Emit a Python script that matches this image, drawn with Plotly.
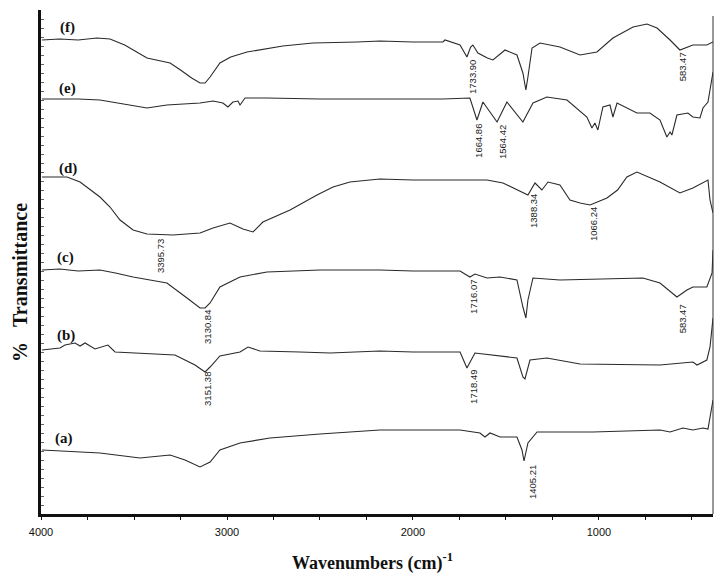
import plotly.graph_objects as go

# Wavenumber (cm^-1) and relative transmittance (arbitrary offset units)
f_wn = [3995, 3900, 3800, 3700, 3629, 3550, 3430, 3350, 3306, 3250, 3190, 3145, 3118, 3091, 3060, 3038, 2980, 2892, 2700, 2538, 2300, 2178, 2000, 1839, 1828, 1790, 1747, 1710, 1690, 1678, 1651, 1600, 1570, 1505, 1441, 1409, 1393, 1382, 1360, 1317, 1210, 1102, 1011, 925, 817, 742, 688, 618, 565, 495, 420, 387]
f_px = [40, 39, 40, 38, 39, 45, 58, 61, 63, 70, 78, 83, 83, 77, 68, 63, 57, 52, 46, 43, 42, 41, 42, 42, 40, 42, 45, 57, 47, 45, 53, 58, 60, 50, 55, 73, 90, 77, 48, 43, 47, 55, 52, 38, 27, 24, 28, 40, 50, 45, 45, 42]

e_wn = [3995, 3800, 3683, 3550, 3430, 3323, 3145, 3075, 3022, 2995, 2968, 2941, 2930, 2903, 2785, 2500, 2178, 1839, 1694, 1656, 1624, 1548, 1495, 1409, 1355, 1280, 1172, 1065, 1038, 1022, 1006, 979, 941, 925, 903, 850, 796, 726, 672, 635, 618, 608, 581, 522, 495, 457, 441, 414, 387]
e_px = [99, 99, 100, 104, 108, 105, 103, 101, 103, 107, 102, 101, 105, 98, 98, 99, 99, 99, 98, 120, 102, 122, 102, 122, 103, 97, 100, 117, 128, 123, 130, 107, 105, 117, 103, 108, 113, 113, 120, 137, 132, 135, 115, 113, 117, 118, 108, 102, 72]

d_wn = [3995, 3860, 3790, 3710, 3683, 3629, 3575, 3505, 3430, 3290, 3145, 3075, 2984, 2914, 2860, 2807, 2661, 2516, 2430, 2339, 2178, 2000, 1602, 1516, 1441, 1382, 1344, 1307, 1274, 1210, 1156, 1102, 1048, 957, 900, 850, 796, 672, 565, 495, 414, 403, 387]
d_px = [177, 177, 182, 193, 197, 207, 220, 230, 234, 235, 233, 228, 223, 229, 232, 222, 210, 195, 187, 182, 179, 180, 180, 183, 190, 195, 183, 190, 182, 185, 200, 203, 205, 198, 190, 177, 172, 182, 193, 188, 180, 200, 213]

c_wn = [3995, 3900, 3800, 3683, 3600, 3505, 3414, 3323, 3215, 3145, 3118, 3091, 3038, 2930, 2785, 2500, 2178, 2000, 1747, 1694, 1667, 1602, 1532, 1441, 1409, 1393, 1382, 1355, 1210, 1032, 764, 672, 581, 527, 495, 420, 392, 387]
c_px = [270, 269, 271, 270, 273, 277, 280, 283, 298, 308, 308, 303, 287, 277, 272, 270, 270, 271, 271, 277, 274, 278, 277, 280, 307, 318, 300, 278, 280, 279, 278, 283, 297, 290, 287, 287, 273, 250]

b_wn = [3995, 3898, 3871, 3817, 3790, 3763, 3710, 3640, 3602, 3468, 3360, 3280, 3226, 3172, 3118, 3091, 3038, 2930, 2887, 2823, 2608, 2446, 2178, 2000, 1747, 1710, 1667, 1570, 1441, 1409, 1398, 1371, 1280, 1102, 672, 495, 473, 420, 403, 387]
b_px = [350, 348, 345, 343, 346, 343, 349, 345, 352, 353, 354, 355, 360, 365, 372, 367, 356, 352, 347, 351, 352, 353, 351, 352, 352, 368, 353, 355, 358, 377, 379, 360, 358, 364, 365, 362, 365, 360, 347, 318]

a_wn = [3995, 3683, 3468, 3306, 3226, 3145, 3091, 3038, 2930, 2769, 2500, 2178, 1747, 1640, 1613, 1586, 1532, 1441, 1414, 1403, 1382, 1333, 1210, 1032, 672, 618, 549, 495, 441, 414, 387]
a_px = [450, 453, 458, 455, 460, 467, 462, 450, 443, 438, 434, 430, 430, 433, 437, 433, 437, 437, 450, 461, 443, 432, 432, 432, 430, 432, 428, 430, 428, 429, 400]

series_names = ["(f)", "(e)", "(d)", "(c)", "(b)", "(a)"]
series_label_wn = [3860, 3860, 3855, 3870, 3865, 3876]
series_label_px = [27, 88, 168, 257, 335, 438]

peak_texts = ["1733.90", "583.47", "1664.86", "1564.42", "3395.73", "1388.34", "1066.24",
              "3130.84", "1716.07", "583.47", "3151.38", "1718.49", "1405.21"]
peak_wn = [1683, 549, 1651, 1521, 3360, 1355, 1032, 3108, 1678, 549, 3108, 1678, 1360]
peak_px = [58, 50, 122, 123, 237, 192, 205, 308, 278, 302, 370, 368, 463]

tick_vals = [4000, 3000, 2000, 1000]
tick_text = ["4000", "3000", "2000", "1000"]

BASE = 514  # conversion of read heights to transmittance units (bottom = 0)

def T(vals):
    return [BASE - v for v in vals]

fig = go.Figure()
for wn, px in [(f_wn, f_px), (e_wn, e_px), (d_wn, d_px), (c_wn, c_px), (b_wn, b_px), (a_wn, a_px)]:
    fig.add_trace(go.Scatter(x=wn, y=T(px), mode="lines",
                             line=dict(color="#2a2a2a", width=1.1), showlegend=False,
                             hoverinfo="skip"))

for name, x, y in zip(series_names, series_label_wn, T(series_label_px)):
    fig.add_annotation(x=x, y=y, text="<b>" + name + "</b>", showarrow=False,
                       font=dict(family="Liberation Serif", size=15, color="#111"),
                       xanchor="center", yanchor="middle")

for t, x, y in zip(peak_texts, peak_wn, T(peak_px)):
    fig.add_annotation(x=x, y=y, text=t, showarrow=False, textangle=-90,
                       font=dict(family="Liberation Sans", size=9.5, color="#222"),
                       xanchor="center", yanchor="top")

# axis titles
fig.add_annotation(xref="paper", x=0, xshift=-21, yref="y", y=231,
                   text="<b>%\u00a0\u00a0\u00a0Transmittance</b>", showarrow=False, textangle=-90,
                   font=dict(family="Liberation Serif", size=20, color="#111"),
                   xanchor="center", yanchor="middle")
fig.add_annotation(xref="x", x=2220, yref="paper", y=0, yshift=-48,
                   text="<b>Wavenumbers (cm)<sup>-1</sup></b>", showarrow=False,
                   font=dict(family="Liberation Serif", size=18, color="#111"),
                   xanchor="center", yanchor="middle")

# thin right frame line
fig.add_shape(type="line", xref="paper", yref="paper", x0=1, x1=1, y0=0, y1=0.988,
              line=dict(color="#333", width=1))

# page body has an 8px default margin, so the figure is sized/offset to compensate
fig.update_layout(
    width=719, height=569,
    margin=dict(l=33, r=14, t=2, b=63),
    paper_bgcolor="white", plot_bgcolor="white",
    xaxis=dict(range=[4000, 387], tickvals=tick_vals, ticktext=tick_text,
               ticks="outside", ticklen=3, tickwidth=1, tickcolor="#111",
               ticklabelstandoff=3,
               minor=dict(dtick=250, ticks="outside", ticklen=3, tickcolor="#111"),
               showgrid=False, zeroline=False,
               showline=True, linecolor="#111", linewidth=2.5,
               tickfont=dict(family="Liberation Sans", size=11, color="#111")),
    yaxis=dict(range=[0, 504], showticklabels=False, ticks="inside", ticklen=3,
               tickwidth=0.6, tickcolor="#666", dtick=9,
               showgrid=False, zeroline=False,
               showline=True, linecolor="#111", linewidth=3),
)

fig.write_html("out.html")
